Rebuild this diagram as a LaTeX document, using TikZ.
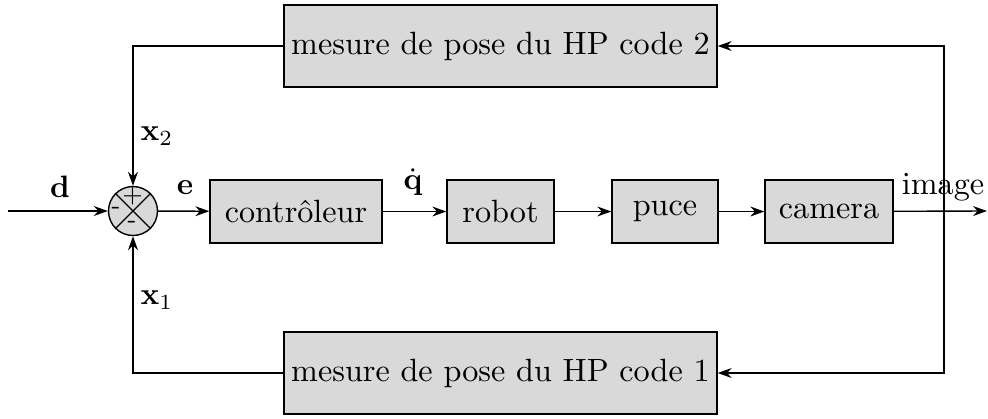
\documentclass[tikz,border=0pt]{standalone}
\usetikzlibrary{arrows.meta}
\def\u{0.323pt}
\newcommand{\tsz}{\fontsize{10.4}{12.5}\selectfont}
\tikzset{
  blk/.style={draw, fill=gray!30, rectangle, inner sep=0pt, minimum height=63*\u, font=\tsz},
  lbl/.style={inner sep=0pt, font=\tsz},
  sig/.style={inner sep=0pt, font=\footnotesize},
  arr/.style={-{Stealth[length=4.5pt,width=3.2pt]}},
}
\begin{document}
\begin{tikzpicture}[x=\u, y=-\u, line width=0.45pt]
\useasboundingbox (0,0) rectangle (988,418);
% blocks
\node[blk, minimum width=172*\u] (ctrl) at (296,211.5) {contrôleur};
\node[blk, minimum width=107*\u] (robot) at (500.5,211.5) {robot};
\node[blk, minimum width=106*\u] (puce) at (665,211.5) {puce};
\node[blk, minimum width=128*\u] (cam) at (829,211.5) {camera};
\node[blk, minimum width=433*\u, minimum height=82*\u] (top) at (500.5,46) {mesure de pose du HP code 2};
\node[blk, minimum width=433*\u, minimum height=82*\u] (bot) at (500.5,373) {mesure de pose du HP code 1};
% summing junction
\node[draw, circle, fill=gray!30, minimum size=49*\u, inner sep=0pt] (sum) at (133,211) {};
\draw (sum.north west) -- (sum.south east);
\draw (sum.north east) -- (sum.south west);
\node[sig] (sp) at (132.5,196) {+};
\node[sig] (sl) at (116,210) {-};
\node[sig] (sb) at (132,224) {-};
% coordinates
\coordinate (in) at (8,211);
\coordinate (out) at (987,211);
\coordinate (br) at (944,211);
% connectors
\draw[arr] (in) -- (sum);
\draw[arr] (sum) -- (ctrl);
\draw[arr] (ctrl) -- (robot);
\draw[arr] (robot) -- (puce);
\draw[arr] (puce) -- (cam);
\draw[arr] (cam) -- (out);
\draw[arr] (br) |- (top.east);
\draw[arr] (br) |- (bot.east);
\draw[arr] (top.west) -| (sum.north);
\draw[arr] (bot.west) -| (sum.south);
% labels
\node[lbl] (ld) at (60,187) {$\mathbf{d}$};
\node[lbl] (le) at (185,188) {$\mathbf{e}$};
\node[lbl] (lq) at (413,182) {$\dot{\mathbf{q}}$};
\node[lbl] (li) at (943,187) {image};
\node[lbl] (lx2) at (157,136) {$\mathbf{x}_2$};
\node[lbl] (lx1) at (157,300) {$\mathbf{x}_1$};
\end{tikzpicture}
\end{document}
